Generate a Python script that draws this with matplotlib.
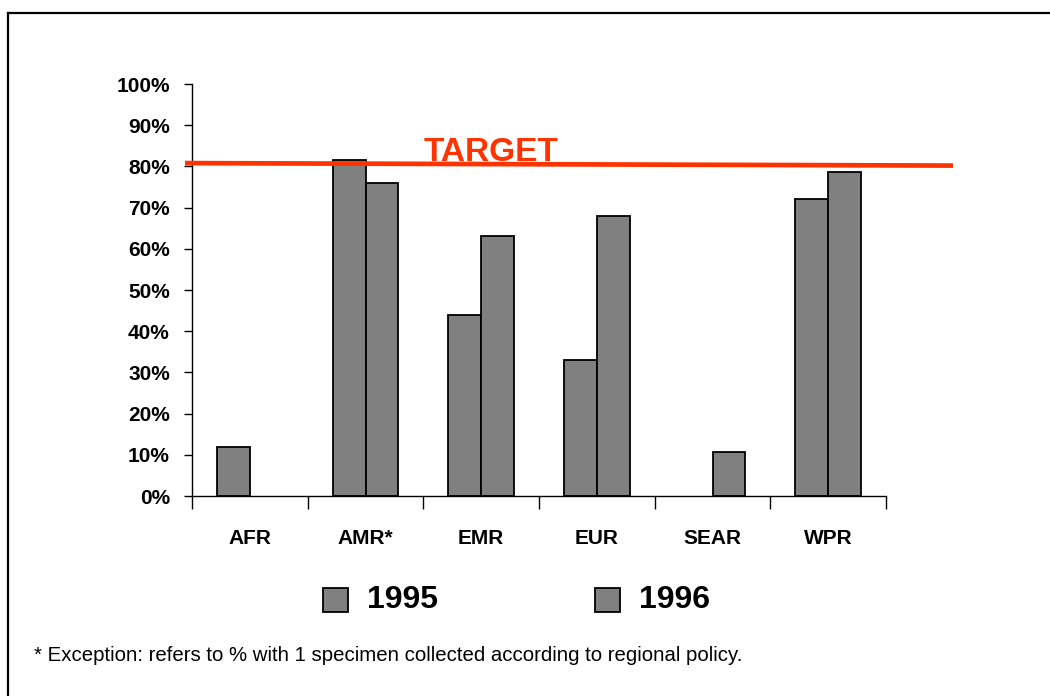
import numpy as np
import matplotlib
matplotlib.use('Agg')
from matplotlib import pyplot as plt
from matplotlib.lines import Line2D
from matplotlib.patches import Rectangle

plt.rcParams['font.family'] = ['Liberation Sans', 'DejaVu Sans']

regions = ['AFR', 'AMR*', 'EMR', 'EUR', 'SEAR', 'WPR']
years = ['1995', '1996']
# None = no bar drawn
vals_1995 = [12, 81.5, 44, 33, None, 72]
vals_1996 = [None, 76, 63, 68, 10.8, 78.7]
target = [80.8, 80.2]   # target line drifts a little, left to right
y_ticks = [0, 10, 20, 30, 40, 50, 60, 70, 80, 90, 100]

W, H = 1050, 696
fig = plt.figure(figsize=(W / 100, H / 100), dpi=100)
ax = fig.add_axes([192 / W, 1 - 496 / H, (886 - 192) / W, (496 - 84) / H])

n = len(regions)
bw = 0.285
x = np.arange(n) + 0.5
for vals, off in [(vals_1995, -bw / 2), (vals_1996, bw / 2)]:
    v = np.array([np.nan if a is None else a for a in vals], dtype=float)
    ax.bar(x + off, v, width=bw, color='#808080', edgecolor='black', linewidth=1.3)

ax.set_xlim(0, n)
ax.set_ylim(0, 100)

for s in ['top', 'right']:
    ax.spines[s].set_visible(False)
ax.spines['left'].set_linewidth(1.0)
ax.spines['bottom'].set_linewidth(1.0)

ax.set_yticks(y_ticks)
ax.set_yticklabels([f'{t}%' for t in y_ticks], fontsize=15, fontweight='bold')
ax.tick_params(axis='y', length=6, width=1, pad=10, direction='out')

ax.set_xticks(np.arange(n + 1))
ax.set_xticklabels([])
ax.tick_params(axis='x', which='major', length=9, width=1, direction='out')
ax.set_xticks(x, minor=True)
ax.set_xticklabels(regions, minor=True, fontsize=15, fontweight='bold')
ax.tick_params(axis='x', which='minor', length=0, pad=24)

# target line, runs past the plot on both sides
x0 = (185 - 192) / 115.67
x1 = (953 - 192) / 115.67
ax.plot([x0, x1], target, color='#FF3300', linewidth=3.4, clip_on=False, zorder=5,
        solid_capstyle='butt')
ax.text(2.0, 81.3, 'TARGET', color='#FF3300', fontsize=24, fontweight='bold',
        ha='left', va='baseline')

# legend drawn by hand
leg_sq = [323, 595]
for yr, px in zip(years, leg_sq):
    fig.add_artist(Rectangle((px / W, 1 - 612 / H), 25 / W, 24 / H,
                             transform=fig.transFigure, facecolor='#808080',
                             edgecolor='black', linewidth=1.3))
    fig.text((px + 44) / W, 1 - 600 / H, yr, fontsize=23, fontweight='bold',
             ha='left', va='center')

fig.text(34 / W, 1 - 661 / H,
         '* Exception: refers to % with 1 specimen collected according to regional policy.',
         fontsize=14.7, ha='left', va='baseline')

# frame: only top and left edges are visible
fig.add_artist(Line2D([8 / W, 1], [1 - 13 / H, 1 - 13 / H], transform=fig.transFigure,
                      color='black', linewidth=1.6))
fig.add_artist(Line2D([8 / W, 8 / W], [0, 1 - 13 / H], transform=fig.transFigure,
                      color='black', linewidth=1.6))

fig.savefig('out.png', dpi=100)
